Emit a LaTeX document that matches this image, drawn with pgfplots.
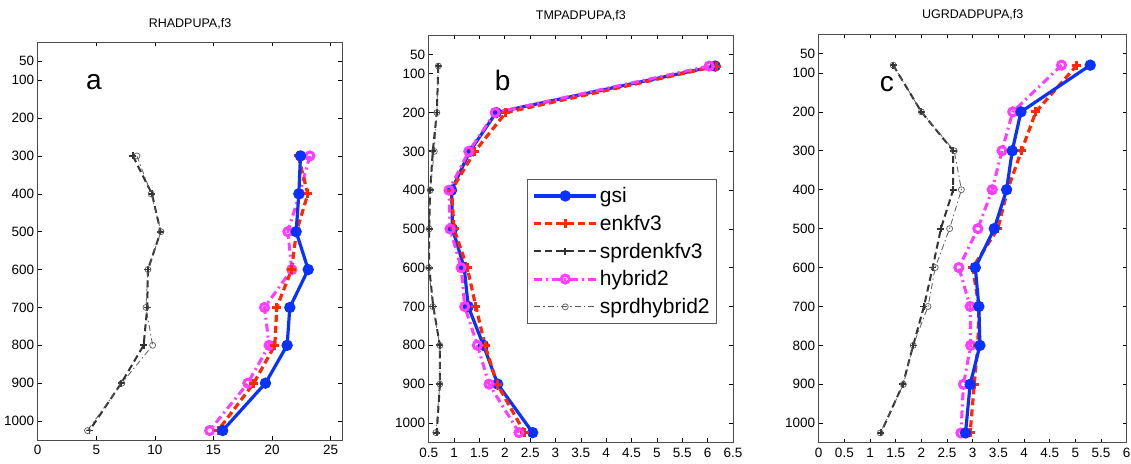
\documentclass[border=0pt]{standalone}
\usepackage{fontspec}
\setmainfont{Liberation Sans}
\usepackage{pgfplots}
\pgfplotsset{compat=1.18}
\definecolor{cgsi}{RGB}{10,50,255}
\definecolor{cenk}{RGB}{255,40,0}
\definecolor{csenk}{RGB}{50,50,50}
\definecolor{chyb}{RGB}{255,60,255}
\definecolor{cshyb}{RGB}{90,90,90}
\pgfplotsset{
  prof/.style={
    scale only axis,
    y dir=reverse, ymin=0, ymax=1050,
    ytick={50,100,200,300,400,500,600,700,800,900,1000},
    tick align=inside,
    tick pos=both,
    major tick length=4pt,
    axis line style={gray!60!black, line width=0.8pt},
    every tick/.style={black, line width=0.6pt},
    tick label style={font=\fontsize{13.5}{13.5}\selectfont},
    /pgf/number format/assume math mode=true,
    /pgf/number format/set thousands separator={},
    xticklabel style={/pgf/number format/fixed, yshift=-2pt},
    title style={font=\fontsize{12.5}{12.5}\selectfont, yshift=4pt},
    legend image code/.code={\draw[mark repeat=2,mark phase=2] plot coordinates {(0pt,0pt) (31pt,0pt) (62pt,0pt)};},
  },
  gsi/.style={color=cgsi, line width=3.2pt, solid, mark=*, mark size=4pt, mark options={solid}},
  enk/.style={color=cenk, line width=3.2pt, dash pattern=on 7pt off 4pt, mark=+, mark size=4.5pt, mark options={solid, line width=3pt}},
  senk/.style={color=csenk, line width=2pt, dash pattern=on 7pt off 4pt, mark=+, mark size=3.5pt, mark options={solid, line width=1.8pt}},
  hyb/.style={color=chyb, line width=3pt, dash pattern=on 8pt off 4pt on 2pt off 4pt, mark=o, mark size=4pt, mark options={solid, line width=3pt}},
  shyb/.style={color=cshyb, line width=0.8pt, dash pattern=on 6pt off 3pt on 1.5pt off 3pt, mark=o, mark size=3pt, mark options={solid, fill=white, line width=0.7pt}},
}
\begin{document}
\begin{tikzpicture}
\useasboundingbox (0,0) rectangle (1131pt,-463pt);
% Panel a
\begin{axis}[prof, at={(37.7pt,-440pt)}, anchor=south west, width=304.6pt, height=397.7pt,
  xmin=0, xmax=26, xtick={0,5,10,15,20,25}, title={RHADPUPA,f3}]
\addplot[senk] coordinates {(8.12,300) (9.75,400) (10.49,500) (9.41,600) (9.35,700) (9.04,800) (7.13,900) (4.42,1025)};
\addplot[shyb] coordinates {(8.47,300) (9.69,400) (10.52,500) (9.41,600) (9.24,700) (9.81,800) (7.18,900) (4.25,1025)};
\addplot[hyb] coordinates {(23.23,300) (22.35,400) (21.35,500) (21.69,600) (19.36,700) (19.75,800) (17.93,900) (14.68,1025)};
\addplot[enk] coordinates {(22.23,300) (23.06,400) (22.09,500) (21.67,600) (20.41,700) (20.24,800) (18.44,900) (15.39,1025)};
\addplot[gsi] coordinates {(22.43,300) (22.29,400) (22.06,500) (23.09,600) (21.52,700) (21.29,800) (19.44,900) (15.79,1025)};
\node[font=\fontsize{28}{28}\selectfont] at (axis cs:4.8,105) {a};
\end{axis}
% Panel b
\begin{axis}[prof, at={(428.7pt,-442.3pt)}, anchor=south west, width=304.3pt, height=407.3pt,
  xmin=0.5, xmax=6.5, xtick={0.5,1,1.5,2,2.5,3,3.5,4,4.5,5,5.5,6,6.5}, title={TMPADPUPA,f3},
  legend style={at={(0.324,0.646)}, anchor=north west, font=\fontsize{21}{21}\selectfont, draw=gray!70!black, line width=0.8pt, row sep=7pt, inner xsep=5pt, inner ysep=6pt},
  legend cell align=left]
\addplot[gsi] coordinates {(6.15,80) (1.83,200) (1.31,300) (0.95,400) (0.97,500) (1.20,600) (1.28,700) (1.58,800) (1.86,900) (2.55,1025)};
\addlegendentry{gsi}
\addplot[enk] coordinates {(6.18,80) (2.02,200) (1.41,300) (0.95,400) (1.00,500) (1.26,600) (1.43,700) (1.61,800) (1.85,900) (2.39,1025)};
\addlegendentry{enkfv3}
\addplot[senk] coordinates {(0.69,80) (0.66,200) (0.58,300) (0.53,400) (0.51,500) (0.51,600) (0.59,700) (0.72,800) (0.72,900) (0.66,1025)};
\addlegendentry{sprdenkfv3}
\addplot[hyb] coordinates {(6.03,80) (1.81,200) (1.29,300) (0.90,400) (0.92,500) (1.14,600) (1.21,700) (1.46,800) (1.69,900) (2.28,1025)};
\addlegendentry{hybrid2}
\addplot[shyb] coordinates {(0.69,80) (0.66,200) (0.61,300) (0.53,400) (0.51,500) (0.50,600) (0.58,700) (0.72,800) (0.72,900) (0.64,1025)};
\addlegendentry{sprdhybrid2}
\node[font=\fontsize{28}{28}\selectfont] at (axis cs:1.96,118) {b};
\end{axis}
% Panel c
\begin{axis}[prof, at={(818.7pt,-442.7pt)}, anchor=south west, width=308pt, height=408.7pt,
  xmin=0, xmax=6, xtick={0,0.5,1,1.5,2,2.5,3,3.5,4,4.5,5,5.5,6}, title={UGRDADPUPA,f3}]
\addplot[senk] coordinates {(1.45,80) (2.00,200) (2.62,300) (2.62,400) (2.38,500) (2.22,600) (2.05,700) (1.84,800) (1.64,900) (1.21,1025)};
\addplot[shyb] coordinates {(1.45,80) (2.00,200) (2.64,300) (2.78,400) (2.55,500) (2.27,600) (2.13,700) (1.84,800) (1.65,900) (1.20,1025)};
\addplot[hyb] coordinates {(4.73,80) (3.78,200) (3.57,300) (3.38,400) (3.10,500) (2.73,600) (2.95,700) (2.96,800) (2.82,900) (2.77,1025)};
\addplot[enk] coordinates {(5.03,80) (4.23,200) (3.95,300) (3.68,400) (3.49,500) (3.00,600) (3.12,700) (3.10,800) (3.03,900) (2.95,1025)};
\addplot[gsi] coordinates {(5.29,80) (3.94,200) (3.77,300) (3.66,400) (3.42,500) (3.05,600) (3.12,700) (3.14,800) (2.95,900) (2.86,1025)};
\node[font=\fontsize{28}{28}\selectfont] at (axis cs:1.33,128) {c};
\end{axis}
\end{tikzpicture}
\end{document}
